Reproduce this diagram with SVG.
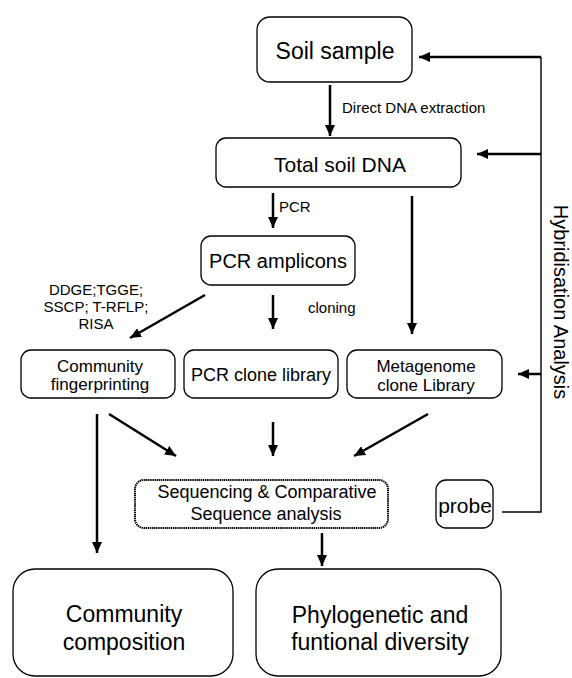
<svg xmlns="http://www.w3.org/2000/svg" width="572" height="678" viewBox="0 0 572 678">
<style>
  text { font-family: "Liberation Sans", Arial, Helvetica, sans-serif; fill: #000; }
  .box { fill: #fff; stroke: #000; stroke-width: 1.3; }
  .dotbox { fill: #fff; stroke: #000; stroke-width: 2; stroke-dasharray: 1.4 0.7; }
  .arr { stroke: #000; stroke-width: 2.5; fill: none; marker-end: url(#ah); }
  .thin { stroke: #000; stroke-width: 1.4; fill: none; }
  .c { text-anchor: middle; }
</style>
<defs>
  <marker id="ah" markerUnits="userSpaceOnUse" markerWidth="11" markerHeight="10" refX="11" refY="5" orient="auto">
    <path d="M0,0 L11,5 L0,10 z" fill="#000"/>
  </marker>
</defs>
<rect width="572" height="678" fill="#fff"/>

<g id="connectors">
  <line class="arr" x1="330" y1="85" x2="330" y2="136"/>
  <line class="arr" x1="273" y1="193" x2="273" y2="228"/>
  <line class="arr" x1="412" y1="196" x2="412" y2="334"/>
  <line class="arr" x1="205" y1="295" x2="130" y2="338"/>
  <line class="arr" x1="273" y1="295" x2="273" y2="329"/>
  <line class="arr" x1="97" y1="414" x2="97" y2="553"/>
  <line class="arr" x1="109" y1="414" x2="176" y2="456"/>
  <line class="arr" x1="273" y1="422" x2="273" y2="456"/>
  <line class="arr" x1="428" y1="414" x2="354" y2="456"/>
  <line class="arr" x1="322" y1="533" x2="322" y2="566"/>
  <polyline class="thin" points="502,512 541,512 541,57"/>
  <line class="arr" x1="541" y1="57" x2="419" y2="57"/>
  <line class="arr" x1="541" y1="154" x2="477" y2="154"/>
  <line class="arr" x1="541" y1="374" x2="518" y2="374"/>
</g>

<g id="labels">
  <text x="342" y="113" font-size="15">Direct DNA extraction</text>
  <text x="279" y="212" font-size="15">PCR</text>
  <text x="308" y="313" font-size="15">cloning</text>
  <text class="c" x="96" y="295" font-size="15">DDGE;TGGE;</text>
  <text class="c" x="96" y="312" font-size="15">SSCP; T-RFLP;</text>
  <text class="c" x="96" y="329" font-size="15">RISA</text>
  <text class="c" font-size="20" transform="translate(554,302) rotate(90)">Hybridisation Analysis</text>
</g>

<g id="soil-sample">
  <rect class="box" x="257" y="17" width="155" height="65" rx="13"/>
  <text class="c" x="335" y="59" font-size="23">Soil sample</text>
</g>

<g id="total-soil-dna">
  <rect class="box" x="216" y="138" width="245" height="49" rx="10"/>
  <text class="c" x="340" y="172" font-size="21">Total soil DNA</text>
</g>

<g id="pcr-amplicons">
  <rect class="box" x="201" y="236" width="154" height="49" rx="10"/>
  <text class="c" x="278" y="268" font-size="20">PCR amplicons</text>
</g>

<g id="community-fingerprinting">
  <rect class="box" x="21" y="350" width="154" height="48" rx="10"/>
  <text class="c" x="100" y="372" font-size="17">Community</text>
  <text class="c" x="100" y="390" font-size="17">fingerprinting</text>
</g>

<g id="pcr-clone-library">
  <rect class="box" x="184" y="350" width="154" height="48" rx="10"/>
  <text class="c" x="261" y="381" font-size="18">PCR clone library</text>
</g>

<g id="metagenome-clone-library">
  <rect class="box" x="347" y="350" width="155" height="48" rx="10"/>
  <text class="c" x="426" y="372" font-size="17">Metagenome</text>
  <text class="c" x="426" y="391" font-size="17">clone Library</text>
</g>

<g id="sequencing">
  <rect class="dotbox" x="135" y="480" width="253" height="48" rx="9"/>
  <text class="c" x="267" y="498" font-size="18">Sequencing &amp; Comparative</text>
  <text class="c" x="266" y="520" font-size="18">Sequence analysis</text>
</g>

<g id="probe">
  <rect class="box" x="436" y="480" width="57" height="48" rx="10"/>
  <text class="c" x="465" y="513" font-size="21">probe</text>
</g>

<g id="community-composition">
  <rect class="box" x="13" y="569" width="220" height="107" rx="22"/>
  <text class="c" x="124" y="622" font-size="23">Community</text>
  <text class="c" x="124" y="650" font-size="23">composition</text>
</g>

<g id="phylogenetic-diversity">
  <rect class="box" x="256" y="569" width="245" height="107" rx="22"/>
  <text class="c" x="380" y="623" font-size="23">Phylogenetic and</text>
  <text class="c" x="380" y="650" font-size="23">funtional diversity</text>
</g>
</svg>
